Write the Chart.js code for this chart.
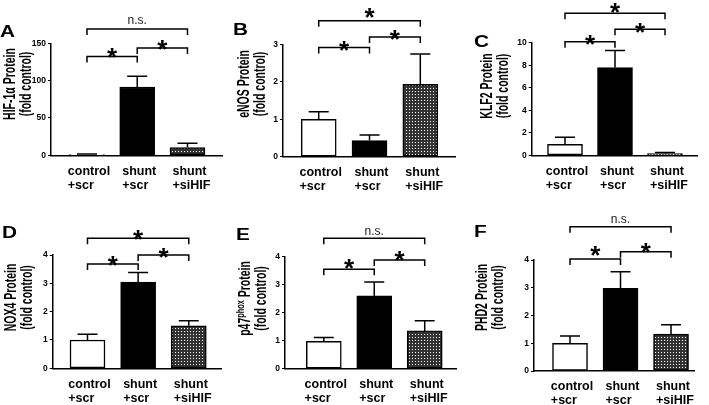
<!DOCTYPE html>
<html lang="en">
<head>
<meta charset="UTF-8">
<title>HIF-1α knockdown panels</title>
<script src="https://cdn.jsdelivr.net/npm/chart.js@4"></script>
<style>
    body { margin: 0; background: #fff; }
    #figure { position: relative; width: 709px; height: 405px; }
    #figure canvas { position: absolute; left: 0; top: 0; }
</style>
</head>
<body>
<div id="figure"></div>
<script>
    // groups on the x axis (two lines each)
    const groups = [['control', '+scr'], ['shunt', '+scr'], ['shunt', '+siHIF']];
    const panelLetters = ['A', 'B', 'C', 'D', 'E', 'F'];
    // {..} marks superscript
    const yTitles = ['HIF-1α Protein', 'eNOS Protein', 'KLF2 Protein', 'NOX4 Protein', 'p47{phox} Protein', 'PHD2 Protein'];
    const yUnit = '(fold control)';

    // mean and SEM per panel
    const hifMean = [1, 91.5, 10.5];
    const hifSem = [0.8, 14.5, 5.5];
    const enosMean = [1.0, 0.43, 1.93];
    const enosSem = [0.2, 0.15, 0.81];
    const klf2Mean = [0.98, 7.8, 0.15];
    const klf2Sem = [0.62, 1.5, 0.1];
    const nox4Mean = [1.0, 3.04, 1.5];
    const nox4Sem = [0.2, 0.34, 0.18];
    const p47Mean = [0.98, 2.6, 1.35];
    const p47Sem = [0.13, 0.5, 0.36];
    const phd2Mean = [1.0, 2.98, 1.33];
    const phd2Sem = [0.26, 0.6, 0.34];

    const yMax = [150, 3, 10, 4, 4, 4];
    const yStep = [50, 1, 2, 1, 1, 1];

    const comparisons = [[0, 1], [1, 2], [0, 2]];
    const significance = [
        ['*', '*', 'n.s.'],
        ['*', '*', '*'],
        ['*', '*', '*'],
        ['*', '*', '*'],
        ['*', '*', 'n.s.'],
        ['*', '*', 'n.s.']
    ];

    const means = [hifMean, enosMean, klf2Mean, nox4Mean, p47Mean, phd2Mean];
    const sems = [hifSem, enosSem, klf2Sem, nox4Sem, p47Sem, phd2Sem];

    // plot frames in page pixels; brackets = [line offset, label offset] from plot top
    const frames = [
        { left: 51, right: 222, top: 43.3, bottom: 155.3, xMin: -0.716, xMax: 2.687,
          brackets: [[13.2, 7.7], [4.7, -0.8], [-14.3, -22.3]], letter: [0, 37], title: [10, 26, 84] },
        { left: 283, right: 455, top: 44.3, bottom: 156.7, xMin: -0.703, xMax: 2.683,
          brackets: [[3.2, -0.6], [-7.3, -11.3], [-23.6, -33.8]], letter: [233, 35], title: [244, 260, 84] },
        { left: 531.7, right: 697, top: 42.7, bottom: 155.3, xMin: -0.666, xMax: 2.64,
          brackets: [[-1, -4.7], [-13.4, -16.7], [-29.4, -36.7]], letter: [474, 47], title: [487.5, 503.5, 86] },
        { left: 52.7, right: 221.7, top: 255, bottom: 368.3, xMin: -0.687, xMax: 2.65,
          brackets: [[9, 4], [0, -4.2], [-16.7, -22.5]], letter: [2, 238], title: [11.5, 27, 297.5] },
        { left: 285, right: 456.7, top: 256.7, bottom: 368.7, xMin: -0.769, xMax: 2.634,
          brackets: [[12.6, 5], [3.3, -2.7], [-18.4, -25]], letter: [236, 240], title: [245, 261.5, 298.5] },
        { left: 534, right: 694, top: 260, bottom: 371, xMin: -0.713, xMax: 2.455,
          brackets: [[-1, -11], [-8.3, -14], [-33.3, -40.7]], letter: [474, 237], title: [482.5, 498.5, 297.5] }
    ];

    const W = 709, H = 405;
    const FONT = "'Liberation Sans', Arial, Helvetica, sans-serif";

    // dotted fill for the siHIF bars
    function makeDots() {
        const c = document.createElement('canvas');
        c.width = 3; c.height = 3;
        const g = c.getContext('2d');
        g.fillStyle = '#333';
        g.fillRect(0, 0, 3, 3);
        g.fillStyle = '#fff';
        g.fillRect(1, 1, 1, 1);
        return g.createPattern(c, 'repeat');
    }
    const dots = makeDots();

    function drawTitle(ctx, text, cx, cy, size, thick) {
        const parts = text.split(/[{}]/);
        ctx.save();
        ctx.translate(cx, cy);
        ctx.rotate(-Math.PI / 2);
        ctx.scale(1, thick);
        ctx.textBaseline = 'middle';
        ctx.textAlign = 'left';
        const fonts = parts.map((p, i) => 'bold ' + (i % 2 ? size * 0.7 : size) + 'px ' + FONT);
        let total = 0;
        parts.forEach((p, i) => { ctx.font = fonts[i]; total += ctx.measureText(p).width; });
        let x = -total / 2;
        parts.forEach((p, i) => {
            ctx.font = fonts[i];
            ctx.fillText(p, x, i % 2 ? -size * 0.25 : 0);
            x += ctx.measureText(p).width;
        });
        ctx.restore();
    }

    const figurePlugin = {
        id: 'figure',
        afterDatasetsDraw(chart) {
            const o = chart.options.plugins.figure;
            const f = o.frame;
            const ctx = chart.ctx;
            const xs = chart.scales.x, ys = chart.scales.y;
            ctx.save();
            ctx.strokeStyle = '#000';
            ctx.fillStyle = '#000';
            ctx.lineWidth = 1.5;

            // error bars (upper only)
            o.mean.forEach((m, i) => {
                const x = xs.getPixelForValue(i);
                const y0 = ys.getPixelForValue(m);
                const y1 = ys.getPixelForValue(m + o.sem[i]);
                ctx.beginPath();
                ctx.moveTo(x, y0); ctx.lineTo(x, y1);
                ctx.moveTo(x - 10, y1); ctx.lineTo(x + 10, y1);
                ctx.stroke();
            });

            // significance brackets
            comparisons.forEach((pair, k) => {
                const xa = xs.getPixelForValue(pair[0]);
                const xb = xs.getPixelForValue(pair[1]);
                const y = f.top + f.brackets[k][0];
                ctx.beginPath();
                ctx.moveTo(xa, y + 6); ctx.lineTo(xa, y);
                ctx.lineTo(xb, y); ctx.lineTo(xb, y + 6);
                ctx.stroke();
                const label = o.sig[k];
                const ty = f.top + f.brackets[k][1];
                ctx.textAlign = 'center';
                if (label === '*') {
                    ctx.font = 'bold 26px ' + FONT;
                    ctx.textBaseline = 'alphabetic';
                    ctx.fillText(label, (xa + xb) / 2, ty + 26 * 0.58);
                } else {
                    ctx.font = '12px ' + FONT;
                    ctx.fillStyle = '#222';
                    ctx.textBaseline = 'middle';
                    ctx.fillText(label, (xa + xb) / 2, ty);
                    ctx.fillStyle = '#000';
                }
            });

            // group labels, lines left-aligned
            ctx.font = 'bold 12.5px ' + FONT;
            ctx.textAlign = 'left';
            ctx.textBaseline = 'middle';
            groups.forEach((g, i) => {
                const cx = xs.getPixelForValue(i);
                const x0 = cx - ctx.measureText(g[0]).width / 2 + 2;
                ctx.fillText(g[0], x0, f.bottom + 16);
                ctx.fillText(g[1], x0, f.bottom + 30);
            });

            // panel letter
            ctx.save();
            ctx.font = 'bold 16px ' + FONT;
            ctx.textBaseline = 'alphabetic';
            ctx.translate(f.letter[0], f.letter[1]);
            ctx.scale(1.3, 1);
            ctx.fillText(o.letter, 0, 0);
            ctx.restore();

            // y titles
            drawTitle(ctx, o.title, f.title[0], f.title[2], 10.5, 1.6);
            drawTitle(ctx, yUnit, f.title[1], f.title[2], 10.5, 1.6);
            ctx.restore();
        }
    };

    const figure = document.getElementById('figure');

    frames.forEach((f, k) => {
        const canvas = document.createElement('canvas');
        canvas.width = W;
        canvas.height = H;
        figure.appendChild(canvas);

        new Chart(canvas, {
            type: 'bar',
            data: {
                datasets: [{
                    data: means[k].map((v, i) => ({ x: i, y: v })),
                    backgroundColor: ['#fff', '#000', dots],
                    borderColor: '#000',
                    borderWidth: 1.5,
                    borderSkipped: false,
                    barThickness: 35
                }]
            },
            options: {
                responsive: false,
                animation: false,
                devicePixelRatio: 1,
                layout: {
                    padding: { left: f.left - 25, right: W - f.right, top: f.top, bottom: H - f.bottom }
                },
                scales: {
                    x: {
                        type: 'linear',
                        offset: false,
                        min: f.xMin,
                        max: f.xMax,
                        grid: { display: false, offset: false },
                        ticks: { display: false },
                        border: { color: '#000', width: 1.5 },
                        afterFit: s => { s.height = 0; }
                    },
                    y: {
                        min: 0,
                        max: yMax[k],
                        ticks: {
                            stepSize: yStep[k],
                            color: '#000',
                            padding: 2,
                            font: { family: FONT, size: 8.5, weight: 'bold' }
                        },
                        grid: { drawOnChartArea: false, color: '#000', tickLength: 3 },
                        border: { color: '#000', width: 1.5 },
                        afterFit: s => { s.width = 25; }
                    }
                },
                plugins: {
                    legend: { display: false },
                    tooltip: { enabled: false },
                    figure: {
                        frame: f,
                        mean: means[k],
                        sem: sems[k],
                        sig: significance[k],
                        letter: panelLetters[k],
                        title: yTitles[k]
                    }
                }
            },
            plugins: [figurePlugin]
        });
    });
</script>
</body>
</html>
